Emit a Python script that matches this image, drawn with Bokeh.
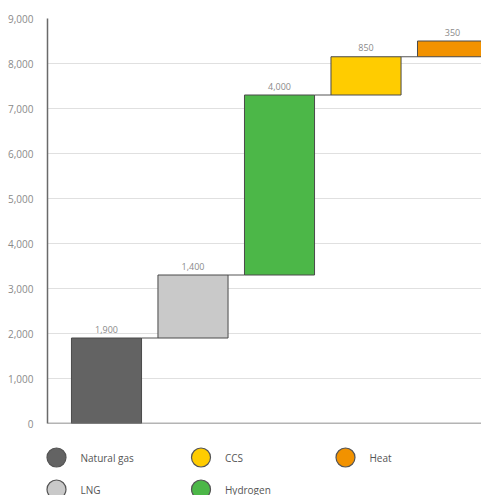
import numpy as np
from bokeh.plotting import figure
from bokeh.models import Range1d, ColumnDataSource, NumeralTickFormatter, FixedTicker, Span
from bokeh.layouts import column
from bokeh.embed import file_html
from bokeh.resources import INLINE
from bokeh.core.properties import value

# ---- data ----
categories = ["Natural gas", "LNG", "Hydrogen", "CCS", "Heat"]
values = [1900, 1400, 4000, 850, 350]
value_labels = ["1,900", "1,400", "4,000", "850", "350"]
colors = ["#636363", "#c9c9c9", "#4cb748", "#ffcc00", "#f29200"]
y_ticks = [0, 1000, 2000, 3000, 4000, 5000, 6000, 7000, 8000, 9000]
legend_order = ["Natural gas", "LNG", "CCS", "Hydrogen", "Heat"]

tops = np.cumsum(values)
bottoms = tops - np.array(values)
xs = np.arange(len(categories))
bar_w = 0.81

src = ColumnDataSource(dict(x=xs, top=tops, bottom=bottoms, color=colors,
                            label=value_labels, name=categories))

p = figure(width=481, height=430, x_range=Range1d(-0.682, 4.335), y_range=Range1d(0, 9000),
           output_backend="svg", toolbar_location=None,
           min_border_left=47, min_border_right=0, min_border_top=18, min_border_bottom=7)
p.frame_align = False
p.background_fill_color = "white"
p.border_fill_color = "white"
p.outline_line_color = None
p.xaxis.visible = False
p.xgrid.visible = False
p.ygrid.ticker = FixedTicker(ticks=y_ticks)
p.ygrid.grid_line_color = "#e0e0e0"
p.ygrid.grid_line_width = 1
p.yaxis.ticker = FixedTicker(ticks=y_ticks)
p.yaxis.formatter = NumeralTickFormatter(format="0,0")
p.yaxis.major_tick_line_color = None
p.yaxis.minor_tick_line_color = None
p.yaxis.axis_line_color = "#6a6a6a"
p.yaxis.axis_line_width = 1.5
p.yaxis.major_label_standoff = 8
p.yaxis.major_label_text_font = "Open Sans"
p.yaxis.major_label_text_font_size = "10px"
p.yaxis.major_label_text_color = "#8a8a8a"

# connectors
p.segment(x0=xs[:-1] + bar_w / 2, x1=xs[1:] - bar_w / 2, y0=tops[:-1], y1=tops[:-1],
          line_color="#555555", line_width=1)

p.vbar(x="x", bottom="bottom", top="top", width=bar_w, fill_color="color",
       line_color="#4a4a4a", line_width=1, source=src)

p.text(x="x", y="top", text="label", source=src, text_align="center", text_baseline="middle",
       y_offset=-9, text_font=value("Open Sans"), text_font_size="9px", text_color="#8a8a8a",
       background_fill_color="white", padding=dict(left=5, right=5, top=0, bottom=0))

p.add_layout(Span(location=0, dimension="width", line_color="#6a6a6a", line_width=1.5))

# ---- legend figure ----
lf = figure(width=481, height=65, x_range=Range1d(0, 481), y_range=Range1d(65, 0),
            output_backend="svg", toolbar_location=None,
            min_border_left=0, min_border_right=0, min_border_top=0, min_border_bottom=0)
lf.frame_align = False
lf.axis.visible = False
lf.grid.visible = False
lf.outline_line_color = None
lf.background_fill_color = "white"
lf.border_fill_color = "white"

color_of = dict(zip(categories, colors))
cols = [i // 2 for i in range(len(legend_order))]
rows = [i % 2 for i in range(len(legend_order))]
lx = [56 + 144.5 * c for c in cols]
ly = [27 + 32 * r for r in rows]
lsrc = ColumnDataSource(dict(x=lx, y=ly, tx=[v + 24 for v in lx], name=legend_order,
                             color=[color_of[n] for n in legend_order]))
lf.scatter(x="x", y="y", size=19, marker="circle", fill_color="color", line_color="#555555",
           line_width=1.2, source=lsrc)
lf.text(x="tx", y="y", text="name", source=lsrc, text_baseline="middle", text_align="left",
        text_font=value("Open Sans"), text_font_size="10px", text_color="#555555")

layout = column(p, lf)
open("out.html", "w").write(file_html(layout, INLINE))
